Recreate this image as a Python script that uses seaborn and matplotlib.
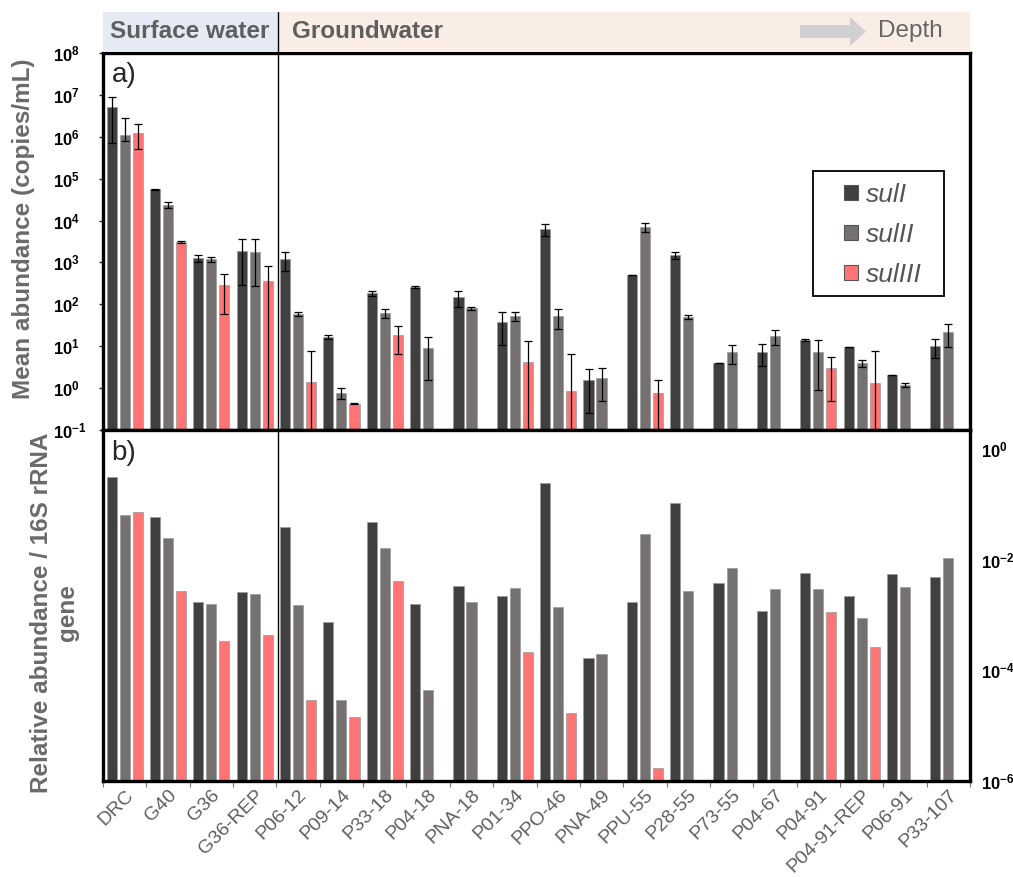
import numpy as np
import pandas as pd
import seaborn as sns
import matplotlib.pyplot as plt
from matplotlib.patches import Rectangle, Patch
from matplotlib.container import BarContainer

sns.set_theme(style='ticks')
plt.rcParams['font.family'] = ['Liberation Sans', 'DejaVu Sans']
plt.rcParams['mathtext.fontset'] = 'custom'
plt.rcParams['mathtext.rm'] = 'Liberation Sans'
plt.rcParams['mathtext.bf'] = 'Liberation Sans:bold'

# sample sites (surface water first, then groundwater by depth)
sites = ['DRC', 'G40', 'G36', 'G36-REP', 'P06-12', 'P09-14', 'P33-18', 'P04-18',
         'PNA-18', 'P01-34', 'PPO-46', 'PNA-49', 'PPU-55', 'P28-55', 'P73-55',
         'P04-67', 'P04-91', 'P04-91-REP', 'P06-91', 'P33-107']
genes = ['sulI', 'sulII', 'sulIII']

# a) mean abundance (copies/mL)
abs_sul1 = [5.1e6, 5.6e4, 1.27e3, 1.86e3, 1.2e3, 16.6, 186, 257, 148, 37.8,
            6.27e3, 1.56, 500, 1.5e3, 3.98, 7.3, 14.1, 9.6, 2.06, 10]
abs_sul2 = [1.1e6, 2.35e4, 1.2e3, 1.77e3, 59, 0.76, 62, 9.05, 81, 52,
            52, 1.74, 7.0e3, 50, 7.3, 17.6, 7.3, 3.98, 1.19, 21.8]
abs_sul3 = [1.22e6, 3.07e3, 290, 360, 1.4, 0.42, 18.6, np.nan, np.nan, 4.2,
            0.85, np.nan, 0.76, np.nan, np.nan, np.nan, 3.0, 1.33, np.nan, np.nan]
# upper / lower error bar lengths
hi_sul1 = [3.8e6, 2e3, 250, 1.75e3, 580, 2, 25, 15, 60, 27,
           2e3, 1.3, 8, 280, 0.1, 4, 0.5, 0.2, 0.03, 4.8]
lo_sul1 = [4.4e6, 2e3, 250, 1.57e3, 580, 2, 25, 15, 60, 27,
           2e3, 1.3, 8, 280, 0.1, 4, 0.5, 0.2, 0.03, 4.8]
hi_sul2 = [1.7e6, 4e3, 150, 1.8e3, 7, 0.22, 16, 7.5, 6, 13,
           26, 1.26, 1.7e3, 5, 3.5, 6.8, 6.8, 0.7, 0.13, 12]
lo_sul2 = [3e5, 4e3, 150, 1.5e3, 7, 0.22, 16, 7.5, 6, 13,
           26, 1.26, 1.7e3, 5, 3.5, 6.8, 6.4, 0.7, 0.13, 12]
hi_sul3 = [0.75e6, 200, 230, 450, 6.3, 0.01, 12, np.nan, np.nan, 9.1,
           5.6, np.nan, 0.8, np.nan, np.nan, np.nan, 2.5, 6.4, np.nan, np.nan]
lo_sul3 = [0.7e6, 200, 230, 450, 6.3, 0.01, 12, np.nan, np.nan, 9.1,
           5.6, np.nan, 0.8, np.nan, np.nan, np.nan, 2.5, 6.4, np.nan, np.nan]

# b) relative abundance / 16S rRNA gene
rel_sul1 = [0.314, 0.0594, 1.73e-3, 2.6e-3, 0.039, 7.5e-4, 0.048, 1.58e-3, 3.36e-3, 2.2e-3,
            0.245, 1.67e-4, 1.73e-3, 0.106, 3.8e-3, 1.18e-3, 5.7e-3, 2.2e-3, 5.6e-3, 4.9e-3]
rel_sul2 = [0.0646, 0.0248, 1.59e-3, 2.4e-3, 1.52e-3, 2.9e-5, 0.0163, 4.4e-5, 1.73e-3, 3.08e-3,
            1.4e-3, 2.0e-4, 0.0294, 2.75e-3, 7.1e-3, 2.97e-3, 2.97e-3, 8.9e-4, 3.2e-3, 0.0108]
rel_sul3 = [0.073, 2.75e-3, 3.4e-4, 4.4e-4, 2.9e-5, 1.43e-5, 4.2e-3, np.nan, np.nan, 2.13e-4,
            1.7e-5, np.nan, 1.7e-6, np.nan, np.nan, np.nan, 1.14e-3, 2.65e-4, np.nan, np.nan]

palette = {'sulI': '#404040', 'sulII': '#757170', 'sulIII': '#ff7575'}
grey_txt = '#5f5f5f'


def long_df(a, b, c):
    df = pd.DataFrame({'site': sites * 3,
                       'gene': [g for g in genes for _ in sites],
                       'value': list(a) + list(b) + list(c)})
    return df.dropna()


abund = long_df(abs_sul1, abs_sul2, abs_sul3)
err_hi = {'sulI': hi_sul1, 'sulII': hi_sul2, 'sulIII': hi_sul3}
err_lo = {'sulI': lo_sul1, 'sulII': lo_sul2, 'sulIII': lo_sul3}
rel = long_df(rel_sul1, rel_sul2, rel_sul3)

fig = plt.figure(figsize=(10.13, 8.77), dpi=100)
ax1 = fig.add_axes([103 / 1013, 1 - 430 / 877, 867 / 1013, 377 / 877])
ax2 = fig.add_axes([103 / 1013, 1 - 781 / 877, 867 / 1013, 351 / 877])
axh = fig.add_axes([103 / 1013, 1 - 52 / 877, 867 / 1013, 40 / 877])

bar_kw = dict(x='site', y='value', hue='gene', order=sites, hue_order=genes,
              palette=palette, saturation=1, width=0.9, gap=0.22, errorbar=None,
              edgecolor='#9a9a9a', linewidth=0.5, legend=False)

# top panel
sns.barplot(data=abund, ax=ax1, **bar_kw)
ax1.set_yscale('log')
ax1.set_ylim(1e-1, 1e8)
ax1.set_xlim(-0.5, len(sites) - 0.5)
bars = [p for c in list(ax1.containers) if isinstance(c, BarContainer) for p in c]
for p in bars:
    xc = p.get_x() + p.get_width() / 2
    i = int(round(xc))
    j = int(round((xc - i) / 0.3)) + 1
    up = err_hi[genes[j]][i]
    if np.isnan(up):
        continue
    v = p.get_height()
    lo = max(v - err_lo[genes[j]][i], 1e-2)
    ax1.errorbar(xc, v, yerr=[[v - lo], [up]], fmt='none', ecolor='black',
                 elinewidth=0.9, capsize=3, capthick=0.9, zorder=5)

ax1.set_yticks([10.0 ** k for k in range(-1, 9)])
ax1.set_yticklabels([r'$\mathbf{10^{%d}}$' % k for k in range(-1, 9)])
ax1.yaxis.set_minor_locator(plt.NullLocator())
ax1.tick_params(axis='y', which='major', length=3, width=1, pad=33, labelsize=12,
                labelcolor='black', direction='out')
for lab in ax1.get_yticklabels():
    lab.set_horizontalalignment('left')
ax1.tick_params(axis='x', which='both', length=0, labelbottom=False)
ax1.set_xlabel('')
ax1.set_ylabel('')

# legend with its own square frame
handles = [Patch(facecolor=palette[g], edgecolor='#555555', linewidth=0.8) for g in genes]
leg = ax1.legend(handles, genes, loc='upper left', bbox_to_anchor=(0.84, 0.69),
                 frameon=False, handlelength=0.5, handleheight=0.5,
                 handletextpad=0.3, labelspacing=0.6, borderpad=0,
                 prop={'style': 'italic', 'size': 19})
for t in leg.get_texts():
    t.set_color('#555555')
ax1.add_patch(Rectangle(((813 - 103) / 867, (430 - 296) / 377), 131 / 867, 125 / 377,
                        transform=ax1.transAxes, fill=False, edgecolor='black',
                        linewidth=1.3, zorder=6))
ax1.text(0.01, 0.975, 'a)', transform=ax1.transAxes, fontsize=20, va='top', ha='left')

# bottom panel
sns.barplot(data=rel, ax=ax2, **bar_kw)
ax2.set_yscale('log')
ax2.set_ylim(1e-6, 10 ** 0.35)
ax2.set_xlim(-0.5, len(sites) - 0.5)
ax2.yaxis.tick_right()
ax2.set_yticks([1e0, 1e-2, 1e-4, 1e-6])
ax2.set_yticklabels([r'$\mathbf{10^{%d}}$' % k for k in [0, -2, -4, -6]])
ax2.yaxis.set_minor_locator(plt.NullLocator())
ax2.tick_params(axis='y', which='major', length=0, pad=8, labelsize=12,
                labelcolor='black', right=True, left=False)
ax2.set_xticks(range(len(sites)))
ax2.set_xticklabels(sites, rotation=45, ha='right', rotation_mode='anchor',
                    fontsize=14, color=grey_txt)
ax2.set_xticks(np.arange(len(sites) + 1) - 0.5, minor=True)
ax2.tick_params(axis='x', which='major', length=0, pad=4)
ax2.tick_params(axis='x', which='minor', length=4, width=0.8, color='#777777')
ax2.set_xlabel('')
ax2.set_ylabel('')
ax2.text(0.01, 0.971, 'b)', transform=ax2.transAxes, fontsize=20, va='top', ha='left')

boundary = 3.54
for ax in (ax1, ax2):
    ax.axvline(boundary, color='black', linewidth=1, zorder=0.5)
    for s in ax.spines.values():
        s.set_linewidth(2.4)
        s.set_color('black')

# header band
axh.set_xlim(103, 970)
axh.set_ylim(52, 12)
axh.axis('off')
split = 103 + (boundary + 0.5) * 867 / len(sites)
axh.add_patch(Rectangle((103, 12), split - 103, 40, facecolor='#e6eaf4', edgecolor='none'))
axh.add_patch(Rectangle((split, 12), 970 - split, 40, facecolor='#faede6', edgecolor='none'))
axh.plot([split, split], [12, 52], color='black', linewidth=1)
axh.text(110, 31, 'Surface water', fontsize=17.5, fontweight='bold', color=grey_txt, va='center')
axh.text(split + 14, 31, 'Groundwater', fontsize=17.5, fontweight='bold', color=grey_txt, va='center')
axh.arrow(800, 31.5, 50, 0, width=13, head_width=29, head_length=16,
          length_includes_head=False, color='#d0d0d0', linewidth=0)
axh.text(878, 31, 'Depth', fontsize=17.5, color='#666666', va='center')

# y labels
ylab_kw = dict(rotation=90, fontsize=17.5, fontweight='bold', color='#6a6a6a',
               ha='center', va='center')
fig.text(24 / 1013, 1 - 229 / 877, 'Mean abundance (copies/mL)', **ylab_kw)
fig.text(41 / 1013, 1 - 613 / 877, 'Relative abundance / 16S rRNA', **ylab_kw)
fig.text(67 / 1013, 1 - 613 / 877, 'gene', **ylab_kw)

fig.savefig('out.png', dpi=100)
